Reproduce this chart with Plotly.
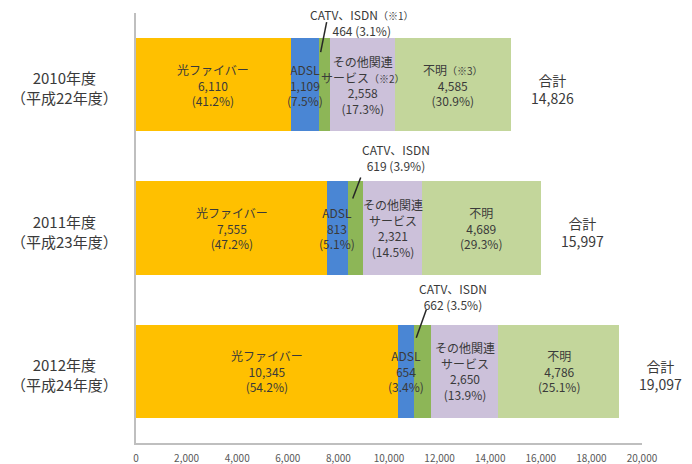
import plotly.graph_objects as go

# ---- data ----
years = ["2010年度", "2011年度", "2012年度"]
heisei = ["（平成22年度）", "（平成23年度）", "（平成24年度）"]
services = ["光ファイバー", "ADSL", "CATV、ISDN", "その他関連サービス", "不明"]
fiber = [6110, 7555, 10345]
adsl = [1109, 813, 654]
catv_isdn = [464, 619, 662]
other = [2558, 2321, 2650]
unknown = [4585, 4689, 4786]
x_ticks = [0, 2000, 4000, 6000, 8000, 10000, 12000, 14000, 16000, 18000, 20000]

# label names per year (notes only on first year)
catv_names = ["CATV、ISDN<span style='font-size:10px'>（※1）</span>", "CATV、ISDN", "CATV、ISDN"]
other_names = ["その他関連<br>サービス<span style='font-size:10px'>（※2）</span>",
               "その他関連<br>サービス", "その他関連<br>サービス"]
unknown_names = ["不明<span style='font-size:10px'>（※3）</span>", "不明", "不明"]

# ---- styles ----
colors = ["#FFC000", "#4A86D4", "#8DB657", "#CCC1DA", "#C3D69B"]
txt_color = "#3A3A3A"
FONT = "Noto Sans CJK JP, Noto Sans, sans-serif"
BAR_W = 0.65
catv_label_shift = [(37, 16), (40, 24), (30, 28)]
catv_line_px = [((2, -14), (8, 16)), ((5, -17), (13, 4)), ((2, -13), (12, 15))]

series = [fiber, adsl, catv_isdn, other, unknown]
ypos = list(range(len(years)))
totals = [sum(s[i] for s in series) for i in ypos]

fig = go.Figure()
for name, vals, col in zip(services, series, colors):
    fig.add_trace(go.Bar(
        y=ypos, x=vals, orientation="h", name=name,
        marker=dict(color=col, line=dict(width=0)),
        width=BAR_W, showlegend=False, hoverinfo="x+name",
    ))

annotations = []
shapes = []
for i in ypos:
    cum = 0
    cums = []
    for s in series:
        cums.append(cum)
        cum += s[i]
    pct = [s[i] / totals[i] * 100 for s in series]

    def seg_label(k, head):
        annotations.append(dict(
            x=cums[k] + series[k][i] / 2, y=i, xref="x", yref="y",
            text=f"{head}<br>{series[k][i]:,}<br>({pct[k]:.1f}%)",
            showarrow=False, align="center",
            font=dict(size=12, color=txt_color, family=FONT),
        ))

    seg_label(0, services[0])
    seg_label(1, services[1])
    seg_label(3, other_names[i])
    seg_label(4, unknown_names[i])

    # CATV/ISDN label above bar with leader line
    dx, dy = catv_label_shift[i]
    annotations.append(dict(
        x=cums[2] + series[2][i] / 2, y=i - BAR_W / 2, xref="x", yref="y",
        text=f"{catv_names[i]}<br>{series[2][i]:,} ({pct[2]:.1f}%)",
        showarrow=False, align="center", xanchor="center", yanchor="middle",
        xshift=dx, yshift=dy,
        font=dict(size=12, color=txt_color, family=FONT),
    ))
    (sx, sy), (ex, ey) = catv_line_px[i]
    shapes.append(dict(
        type="line", xref="x", yref="y",
        xsizemode="pixel", ysizemode="pixel",
        xanchor=cums[2], yanchor=i - BAR_W / 2,
        x0=sx, y0=sy, x1=ex, y1=ey,
        line=dict(color="#262626", width=1.5),
    ))

    # total
    annotations.append(dict(
        x=totals[i], y=i, xref="x", yref="y",
        text=f"合計<br>{totals[i]:,}",
        showarrow=False, align="center", xanchor="left", xshift=18, yshift=-4,
        font=dict(size=14, color=txt_color, family=FONT),
    ))

    # category label
    annotations.append(dict(
        x=-0.142, y=i, xref="paper", yref="y",
        text=f"{years[i]}<br>{heisei[i]}",
        showarrow=False, align="center", xanchor="center", yshift=-3,
        font=dict(size=15, color=txt_color, family=FONT),
    ))

fig.update_layout(
    width=692, height=464,
    margin=dict(l=136, r=50, t=13, b=21),
    barmode="stack",
    paper_bgcolor="white", plot_bgcolor="white",
    font=dict(family=FONT, color=txt_color),
    annotations=annotations,
    shapes=shapes,
    xaxis=dict(
        range=[0, 20000], tickvals=x_ticks, tickformat=",",
        showgrid=False, zeroline=False,
        showline=True, linecolor="#BFBFBF", linewidth=1.5,
        ticks="outside", ticklen=5, tickcolor="rgba(0,0,0,0)",
        tickfont=dict(size=10, color="#595959", family=FONT),
        automargin=False, fixedrange=True,
    ),
    yaxis=dict(
        range=[2.5, -0.5], showticklabels=False, showgrid=False,
        zeroline=False, showline=True, linecolor="#BFBFBF", linewidth=1.5,
        automargin=False, fixedrange=True,
    ),
)

fig.write_html("out.html", config={"displayModeBar": False},
               post_script="document.body.style.margin='0';")
